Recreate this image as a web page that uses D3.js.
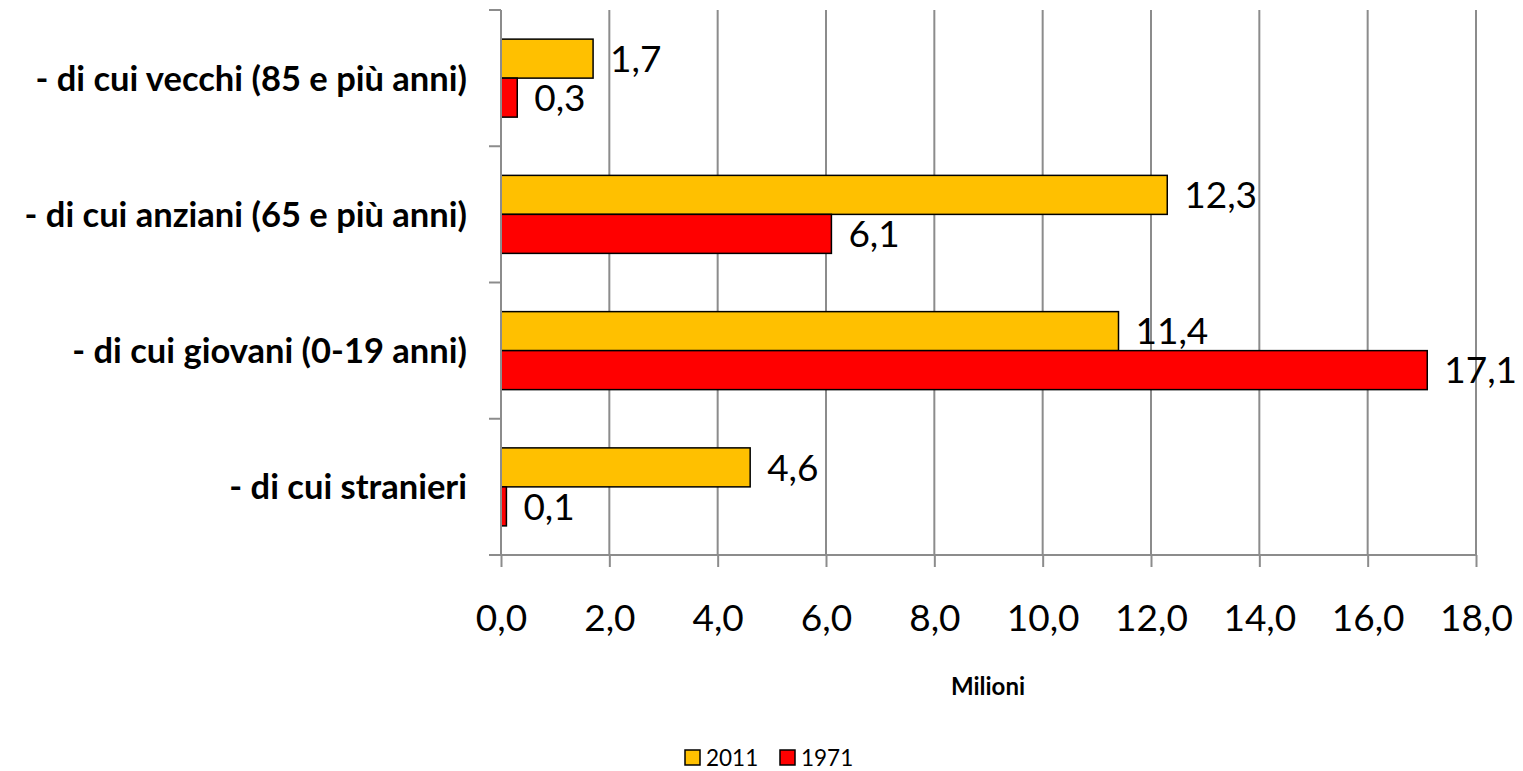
<!DOCTYPE html>
<html>
<head>
<meta charset="utf-8">
<script src="https://cdn.jsdelivr.net/npm/d3@7"></script>
<style>
  html, body { margin: 0; padding: 0; background: #fff; }
  svg { display: block; font-family: Lato, "Open Sans", sans-serif; }
</style>
</head>
<body>
<svg id="chart" width="1523" height="771"></svg>
<script>
// Population groups, top to bottom
const categories = [
  "- di cui vecchi (85 e più anni)",
  "- di cui anziani (65 e più anni)",
  "- di cui giovani (0-19 anni)",
  "- di cui stranieri"
];
const series = ["2011", "1971"];
const values2011 = [1.7, 12.3, 11.4, 4.6];
const values1971 = [0.3, 6.1, 17.1, 0.1];
const xTicks = [0, 2, 4, 6, 8, 10, 12, 14, 16, 18];
const axisTitle = "Milioni";
const colors = { "2011": "#FFC000", "1971": "#FF0000" };

const svg = d3.select("#chart");
const plotLeft = 501, plotRight = 1476, plotTop = 10, plotBottom = 555;

const x = d3.scaleLinear().domain([0, 18]).range([plotLeft, plotRight]);
const y = d3.scaleBand().domain(categories).range([plotTop, plotBottom]).paddingInner(0).paddingOuter(0);
const barH = 39;
const sub = d3.scaleBand().domain(series).range([0, barH * 2]);
const fmt = v => d3.format(".1f")(v).replace(".", ",");

// vertical gridlines
svg.append("g").selectAll("line").data(xTicks.slice(1)).join("line")
  .attr("x1", d => x(d)).attr("x2", d => x(d))
  .attr("y1", plotTop).attr("y2", plotBottom)
  .attr("stroke", "#8c8c8c").attr("stroke-width", 2);

// bars
const rows = categories.map((c, i) => ({ cat: c, vals: [
  { s: "2011", v: values2011[i] }, { s: "1971", v: values1971[i] }
]}));
const groups = svg.append("g").selectAll("g").data(rows).join("g")
  .attr("transform", d => `translate(0,${y(d.cat) + (y.bandwidth() - barH * 2) / 2})`);

groups.selectAll("rect").data(d => d.vals).join("rect")
  .attr("x", x(0)).attr("y", d => sub(d.s))
  .attr("width", d => x(d.v) - x(0)).attr("height", barH)
  .attr("fill", d => colors[d.s]).attr("stroke", "#000").attr("stroke-width", 1.5);

groups.selectAll("text").data(d => d.vals).join("text")
  .attr("x", d => x(d.v) + 17).attr("y", d => sub(d.s) + barH / 2)
  .attr("dy", "0.36em")
  .attr("font-size", 37).attr("fill", "#000")
  .text(d => fmt(d.v));

// y axis line and ticks
const ya = svg.append("g").attr("stroke", "#8c8c8c").attr("stroke-width", 2);
ya.append("line").attr("x1", plotLeft).attr("x2", plotLeft).attr("y1", plotTop).attr("y2", plotBottom);
const yEdges = categories.map(c => y(c)).concat([plotBottom]);
ya.selectAll("line.t").data(yEdges).join("line").attr("class", "t")
  .attr("x1", plotLeft - 12).attr("x2", plotLeft).attr("y1", d => d).attr("y2", d => d);

// x axis
const xa = svg.append("g").attr("transform", `translate(0,${plotBottom})`)
  .call(d3.axisBottom(x).tickValues(xTicks).tickSize(12).tickPadding(38).tickFormat(fmt));
xa.select(".domain").attr("stroke", "#8c8c8c").attr("stroke-width", 2)
  .attr("d", `M${plotLeft - 12},0H${plotRight}`);
xa.selectAll(".tick line").attr("stroke", "#8c8c8c").attr("stroke-width", 2);
xa.selectAll(".tick text").attr("font-size", 37).attr("fill", "#000")
  .attr("font-family", "Lato, sans-serif");

// category labels
svg.append("g").selectAll("text").data(categories).join("text")
  .attr("x", 467).attr("y", d => y(d) + y.bandwidth() / 2).attr("dy", "0.36em")
  .attr("text-anchor", "end").attr("font-weight", "bold").attr("font-size", 34.5)
  .text(d => d);

// axis title
svg.append("text").attr("x", 988).attr("y", 695).attr("text-anchor", "middle")
  .attr("font-weight", "bold").attr("font-size", 24).text(axisTitle);

// legend
const legend = svg.append("g").attr("transform", "translate(685,750)");
const li = legend.selectAll("g").data(series).join("g")
  .attr("transform", (d, i) => `translate(${i * 95},0)`);
li.append("rect").attr("width", 15).attr("height", 15)
  .attr("fill", d => colors[d]).attr("stroke", "#000").attr("stroke-width", 1.5);
li.append("text").attr("x", 21).attr("y", 7.5).attr("dy", "0.36em")
  .attr("font-size", 22.5).text(d => d);
</script>
</body>
</html>
